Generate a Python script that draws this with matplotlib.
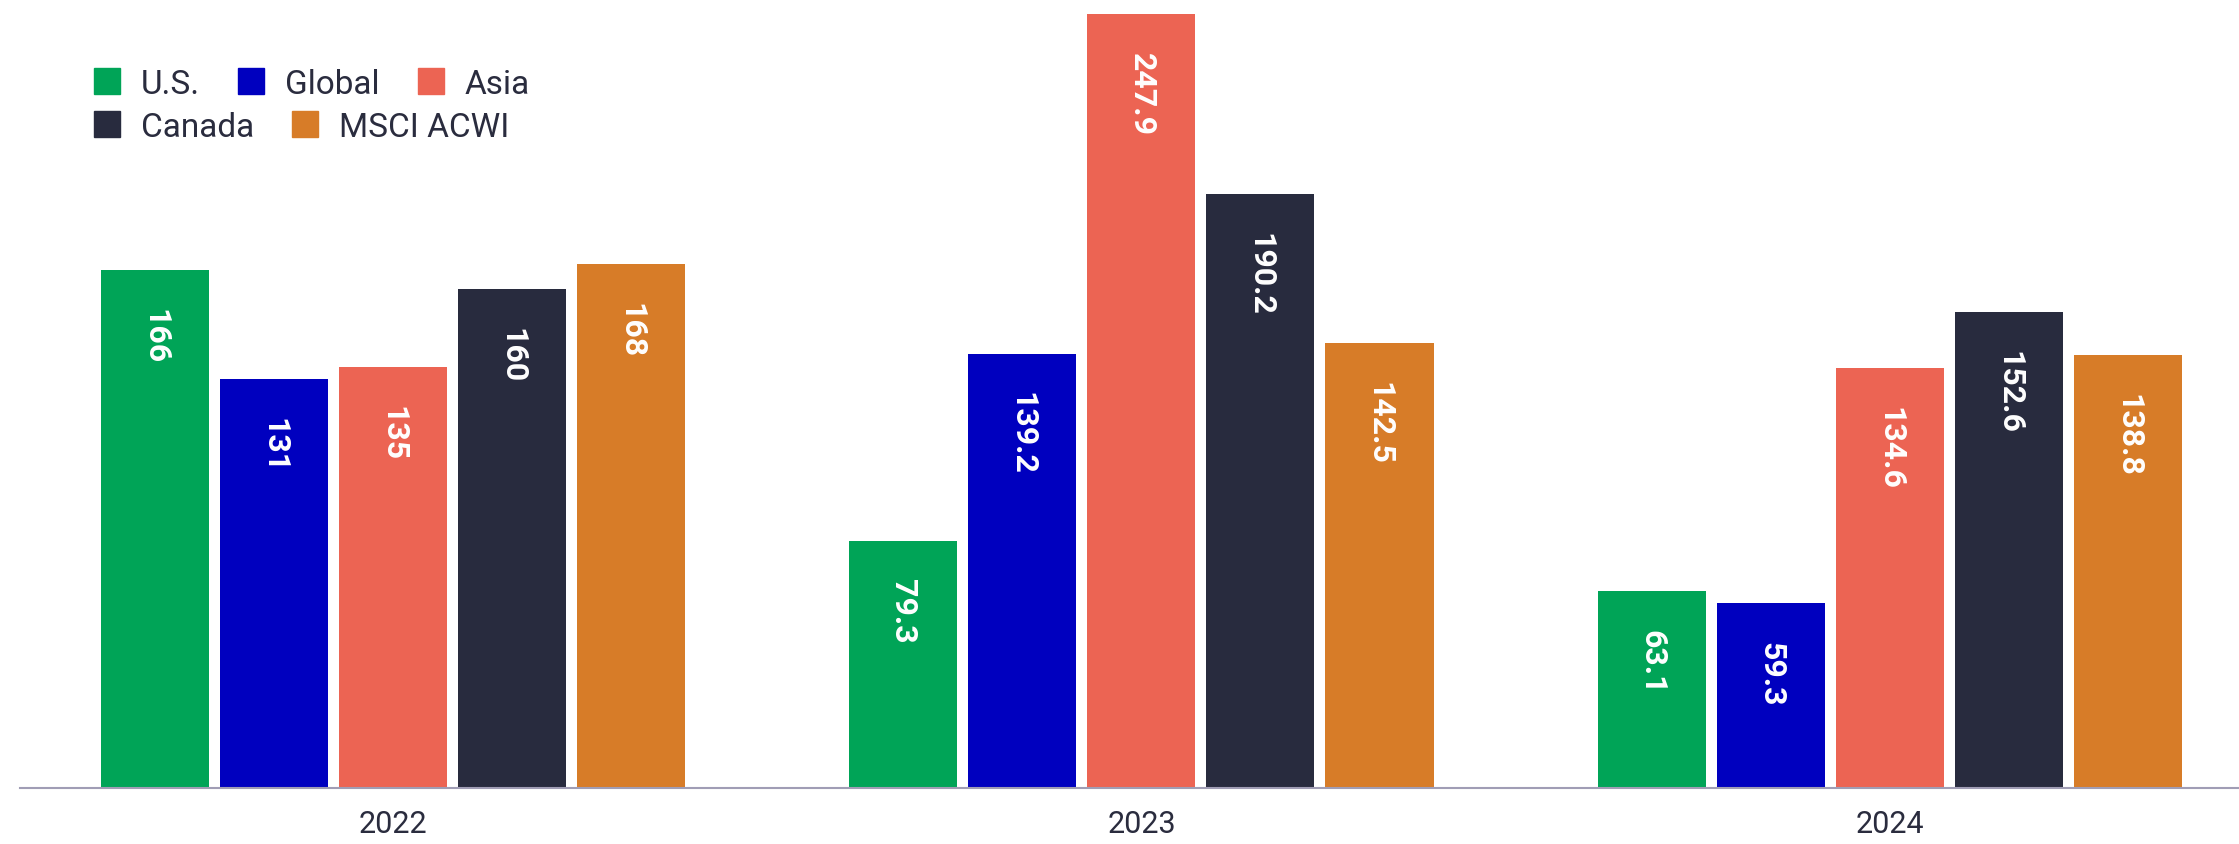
import matplotlib
matplotlib.use("Agg")
import matplotlib.pyplot as plt
from matplotlib.patches import Rectangle
import numpy as np

# Data
years = ["2022", "2023", "2024"]
series = ["U.S.", "Global", "Asia", "Canada", "MSCI ACWI"]
us = [166, 79.3, 63.1]
global_ = [131, 139.2, 59.3]
asia = [135, 247.9, 134.6]
canada = [160, 190.2, 152.6]
msci_acwi = [168, 142.5, 138.8]
labels = [
    ["166", "79.3", "63.1"],
    ["131", "139.2", "59.3"],
    ["135", "247.9", "134.6"],
    ["160", "190.2", "152.6"],
    ["168", "142.5", "138.8"],
]
values = [us, global_, asia, canada, msci_acwi]
colors = ["#00A457", "#0000BF", "#EC6453", "#282B3E", "#D77C28"]

TEXT = "#2A2C3E"
W, H, DPI = 2239, 844, 100

plt.rcParams["font.family"] = ["Roboto", "DejaVu Sans"]

fig = plt.figure(figsize=(W / DPI, H / DPI), dpi=DPI)
ax = fig.add_axes([20 / W, 56 / H, 2219 / W, 788 / H])

x = np.arange(len(years))
step = 0.159
width = 0.1443
for i, (vals, col, labs) in enumerate(zip(values, colors, labels)):
    pos = x + (i - 2) * step
    ax.bar(pos, vals, width=width, color=col, zorder=2)
    for px, v, lab in zip(pos, vals, labs):
        ax.annotate(lab, (px, v), xytext=(0, -28), textcoords="offset points",
                    rotation=-90, ha="center", va="top", color="white",
                    fontsize=23, fontweight="bold")

ax.set_xlim(-0.4983, 2.4663)
ax.set_ylim(0, 252.5)
ax.set_xticks(x)
ax.set_xticklabels(years, fontsize=22, color=TEXT)
ax.tick_params(axis="x", length=0, pad=16)
ax.set_yticks([])
for s in ["left", "right", "top"]:
    ax.spines[s].set_visible(False)
ax.spines["bottom"].set_color("#A09DB5")
ax.spines["bottom"].set_linewidth(1.5)

# Legend drawn as flowing rows of swatches and labels
renderer = fig.canvas.get_renderer()
rows = [[0, 1, 2], [3, 4]]
row_base = [94, 137]
sq = 26
for r, idxs in enumerate(rows):
    xpix = 94
    ybot = row_base[r]
    for idx in idxs:
        fig.patches.append(Rectangle((xpix / W, (H - ybot) / H), sq / W, sq / H,
                                     transform=fig.transFigure, color=colors[idx]))
        t = fig.text((xpix + sq + 21) / W, (H - ybot) / H, series[idx],
                     fontsize=24, color=TEXT, va="baseline", ha="left")
        bb = t.get_window_extent(renderer)
        xpix = bb.x1 + 38

fig.savefig("out.png", dpi=DPI)
